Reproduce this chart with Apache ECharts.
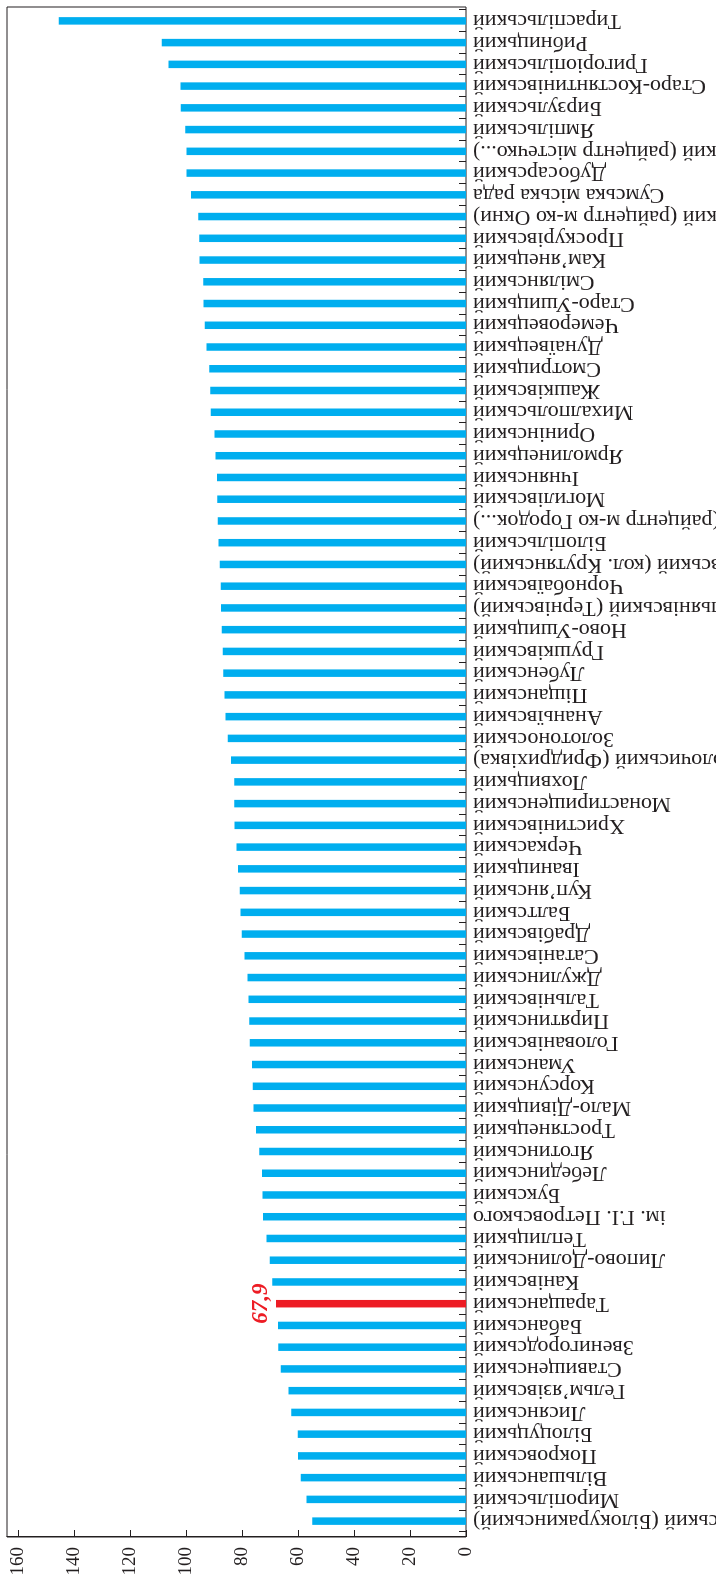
<!DOCTYPE html>
<html><head><meta charset="utf-8">
<script src="https://cdn.jsdelivr.net/npm/echarts/dist/echarts.min.js"></script>
<style>
html,body{margin:0;padding:0;background:#fff;overflow:hidden;width:716px;height:1580px;position:relative}
#chart{position:absolute;left:0;top:0;width:1580px;height:716px;transform-origin:0 0;transform:translate(0,1580px) rotate(-90deg);}
</style></head><body><div id="chart"></div>
<script>
// Categories in axis order (first = bottom of the picture, last = top).
// Labels cut off by the picture edge in the reference keep only their visible part.
const districts = [
  'вський (Білокуракинський)',
  'Миропільський',
  'Вільшанський',
  'Покровський',
  'Білоцуцький',
  'Лисянський',
  'Гельм’язівський',
  'Ставищенський',
  'Звенигородський',
  'Бабанський',
  'Таращанський',
  'Канівський',
  'Липово-Долинський',
  'Теплицький',
  'ім. Г.І. Петровського',
  'Букський',
  'Лебединський',
  'Яготинський',
  'Тростянецький',
  'Мало-Дівицький',
  'Корсунський',
  'Уманський',
  'Голованівський',
  'Пирятинський',
  'Тальнівський',
  'Джулинський',
  'Сатанівський',
  'Драбівський',
  'Балтський',
  'Куп’янський',
  'Іваницький',
  'Черкаський',
  'Христинівський',
  'Монастирищенський',
  'Лохвицький',
  'Волочиський (Фридрихівка)',
  'Золотоноський',
  'Ананьївський',
  'Піщанський',
  'Лубенський',
  'Грушківський',
  'Ново-Ушицький',
  'Ульянівський (Тернівський)',
  'Чорнобаївський',
  'вський (кол. Крутянський)',
  'Білопільський',
  '(райцентр м-ко Городок...)',
  'Могилівський',
  'Ічнянський',
  'Ярмолинецький',
  'Оринінський',
  'Михалпольський',
  'Жашківський',
  'Смотрицький',
  'Дунаївецький',
  'Чемеровецький',
  'Старо-Ушицький',
  'Смілянський',
  'Кам’янецький',
  'Проскурівський',
  'ький (райцентр м-ко Окни)',
  'Сумська міська рада',
  'Дубосарський',
  'ький (райцентр містечко...)',
  'Ямпільський',
  'Бирзульський',
  'Старо-Костянтинівський',
  'Григоріопільський',
  'Рибницький',
  'Тираспільський'
];

const values = [
  54.9, 57.0, 59.0, 60.0, 60.1, 62.4, 63.4, 66.2, 67.1, 67.2,
  67.9, 69.2, 70.1, 71.3, 72.5, 72.7, 72.9, 73.9, 75.0, 75.9,
  76.2, 76.5, 77.3, 77.4, 77.7, 78.1, 79.1, 80.1, 80.6, 80.8,
  81.5, 82.0, 82.7, 82.8, 82.8, 84.0, 85.1, 85.9, 86.3, 86.7,
  86.9, 87.3, 87.5, 87.6, 88.0, 88.4, 88.7, 88.9, 89.0, 89.5,
  89.9, 91.2, 91.4, 91.7, 92.7, 93.3, 93.8, 93.9, 95.2, 95.3,
  95.7, 98.3, 99.9, 99.9, 100.3, 101.9, 102.0, 106.3, 108.7, 145.5
];

const valueTicks = [0, 20, 40, 60, 80, 100, 120, 140, 160];
const highlighted = 'Таращанський';

const INK = '#231f20';
const BLUE = '#00aeef';
const RED = '#ed1c24';
const FONT = '"Liberation Serif", "DejaVu Serif", serif';
const AXIS_MAX = 164;

const chart = echarts.init(document.getElementById('chart'), null, {renderer: 'canvas'});

const seriesData = values.map((v, i) => {
  const isHi = districts[i] === highlighted;
  return {
    value: v,
    itemStyle: {color: isHi ? RED : BLUE},
    label: isHi ? {
      show: true,
      position: 'top',
      distance: 3,
      formatter: p => String(p.value).replace('.', ','),
      color: RED,
      fontFamily: FONT,
      fontStyle: 'italic',
      fontWeight: 'bold',
      fontSize: 23
    } : {show: false}
  };
});

chart.setOption({
  animation: false,
  backgroundColor: '#fff',
  grid: [
    {left: 43, right: 7, top: 7, bottom: 250, containLabel: false, outerBoundsMode: 'none',
      show: true, borderColor: INK, borderWidth: 1, backgroundColor: 'transparent'},
    {left: 48, right: 10, top: 7, bottom: 250, containLabel: false, outerBoundsMode: 'none'}
  ],
  xAxis: [
    {gridIndex: 0, type: 'value', min: 0, max: 1, show: false},
    {
      gridIndex: 1, type: 'category', data: districts,
      axisLine: {show: false},
      axisTick: {show: true, inside: true, length: 7, interval: 0, lineStyle: {color: INK, width: 1}},
      axisLabel: {interval: 0, rotate: 90, margin: 7, color: INK, fontFamily: FONT, fontSize: 22,
        hideOverlap: false}
    }
  ],
  yAxis: [
    {
      gridIndex: 0, type: 'value', min: 0, max: AXIS_MAX, interval: 20,
      axisLine: {show: true, lineStyle: {color: INK, width: 1}},
      axisTick: {show: true, inside: true, length: 7, lineStyle: {color: INK, width: 1},
        customValues: valueTicks},
      splitLine: {show: false},
      axisLabel: {color: INK, fontFamily: FONT, fontSize: 19, margin: 10,
        customValues: valueTicks,
        formatter: v => String(v)}
    },
    {gridIndex: 1, type: 'value', min: 0, max: AXIS_MAX, show: false}
  ],
  series: [{
    type: 'bar',
    xAxisIndex: 1,
    yAxisIndex: 1,
    barWidth: 7.5,
    data: seriesData
  }]
});
</script>
</body></html>
